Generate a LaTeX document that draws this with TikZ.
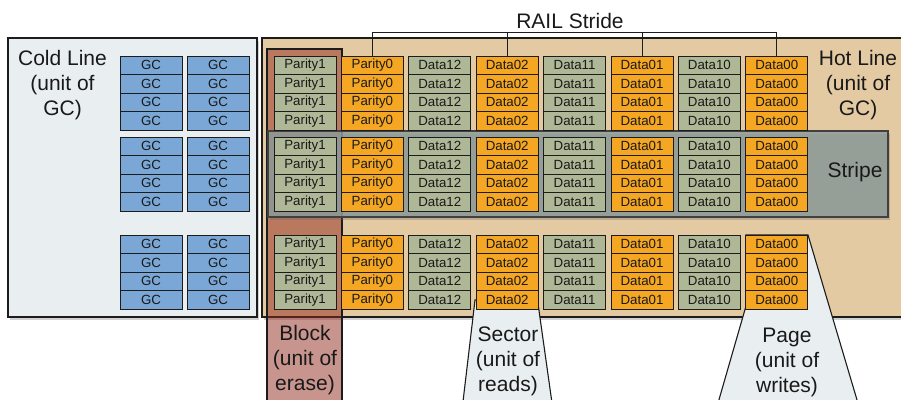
\documentclass[tikz,border=0pt]{standalone}
\usepackage{fontspec}
\setmainfont{Liberation Sans}
\usetikzlibrary{shadows}
\definecolor{coldbg}{RGB}{233,239,240}
\definecolor{gcblue}{RGB}{122,167,214}
\definecolor{olivec}{RGB}{174,184,150}
\definecolor{orngc}{RGB}{245,166,35}
\definecolor{hotbg}{RGB}{228,202,163}
\definecolor{stripegray}{RGB}{142,156,154}
\definecolor{blockbrown}{RGB}{145,41,29}
\definecolor{edgec}{RGB}{28,28,28}
\definecolor{txtc}{RGB}{25,25,25}
\begin{document}
\begin{tikzpicture}[x=1pt,y=-1pt,
  boxshadow/.style={drop shadow={shadow xshift=1.5pt,shadow yshift=-2.5pt,opacity=0.3,fill=black!60}},
  bigbox/.style={draw=edgec,line width=1.2pt},
  cell/.style={draw=edgec,line width=0.9pt,minimum width=62pt,minimum height=18.5pt,
    inner sep=0pt,font=\fontsize{13.3}{15}\selectfont,text=txtc},
  biglabel/.style={align=center,font=\fontsize{21}{25}\selectfont,text=txtc,inner sep=0pt},
  callout/.style={fill=coldbg,draw=edgec,line width=1.1pt},
  bracket/.style={draw=edgec,line width=1pt}]
\clip (0,0) rectangle (901,399);
% boxes
\path[bigbox,fill=hotbg,boxshadow] (262,38) rectangle (910,317);
\path[bigbox,fill=coldbg,boxshadow] (8,38) rectangle (257,317);
\path[draw=edgec,line width=1.2pt,fill=blockbrown,fill opacity=0.5] (267,49) rectangle (342,410);
\path[draw=black!75,line width=1.1pt,fill=stripegray,fill opacity=0.82,boxshadow] (268,131) rectangle (888,217);
% callouts
\path[callout] (475,300) -- (537.5,300) -- (553,410) -- (462,410) -- cycle;
\path[callout] (746,235) -- (808,235) -- (860,410) -- (716,410) -- (746,306) -- cycle;
% cold cells
\foreach \g/\top in {1/56,2/137,3/235} {
  \foreach \r in {0,...,3} {
    \foreach \c/\cx in {0/151,1/218} {
      \pgfmathsetmacro\cy{\top+9.25+18.5*\r}
      \node[cell,fill=gcblue] (gc-\g-\r-\c) at (\cx,\cy) {GC};
    }
  }
}
% hot cells
\foreach \g/\top in {1/56,2/137,3/235} {
  \foreach \r in {0,...,3} {
    \foreach \lab [count=\c from 0] in {Parity1,Parity0,Data12,Data02,Data11,Data01,Data10,Data00} {
      \pgfmathsetmacro\cx{305+67.4*\c}
      \pgfmathsetmacro\cy{\top+9.25+18.5*\r}
      \pgfmathtruncatemacro\odd{mod(\c,2)}
      \ifnum\odd=1 \def\fc{orngc}\else\def\fc{olivec}\fi
      \node[cell,fill=\fc] (h-\g-\r-\c) at (\cx,\cy) {\lab};
    }
  }
}
% RAIL stride bracket
\coordinate (brk) at (0,32);
\draw[bracket] (h-1-0-1.north) -- (h-1-0-1.north |- brk) -- (h-1-0-7.north |- brk) -- (h-1-0-7.north);
\draw[bracket] (h-1-0-3.north) -- (h-1-0-3.north |- brk);
\draw[bracket] (h-1-0-5.north) -- (h-1-0-5.north |- brk);
\node[biglabel] (rail) at (570,20.5) {RAIL Stride};
% labels
\node[biglabel] (coldlbl) at (62.5,85) {Cold Line\\(unit of\\GC)};
\node[biglabel] (hotlbl) at (858,85) {Hot Line\\(unit of\\GC)};
\node[biglabel] (stripelbl) at (855,172) {Stripe};
\node[biglabel] (blocklbl) at (305,360) {Block\\(unit of\\erase)};
\node[biglabel] (sectorlbl) at (508,361.5) {Sector\\(unit of\\reads)};
\node[biglabel] (pagelbl) at (787,362) {Page\\(unit of\\writes)};
\end{tikzpicture}
\end{document}
